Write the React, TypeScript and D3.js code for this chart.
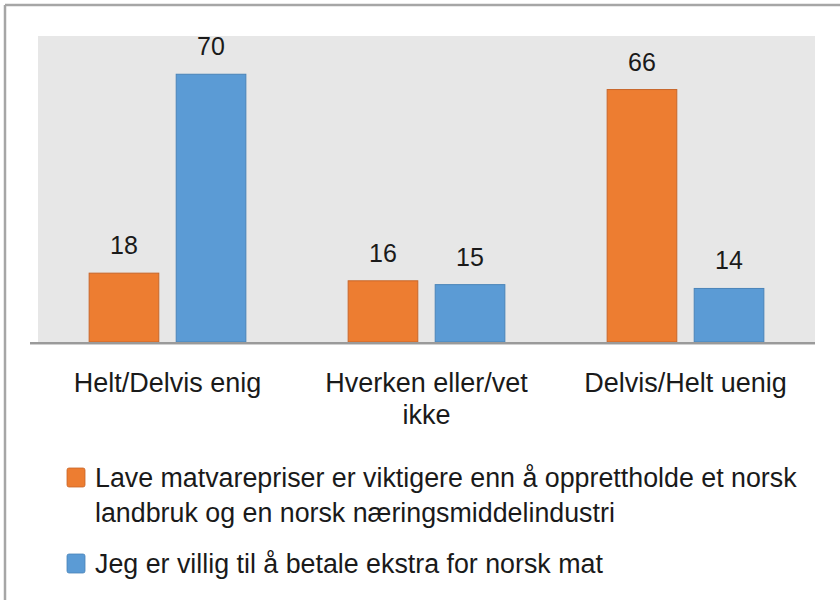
import React from "react";
import * as d3 from "d3";

// categories on the x axis
const categories = ["Helt/Delvis enig", "Hverken eller/vet ikke", "Delvis/Helt uenig"];
// the two statements, in legend order
const seriesNames = [
  "Lave matvarepriser er viktigere enn å opprettholde et norsk landbruk og en norsk næringsmiddelindustri",
  "Jeg er villig til å betale ekstra for norsk mat",
];
const lowPrices = [18, 16, 66];
const payExtra = [70, 15, 14];
const seriesValues = [lowPrices, payExtra];
const seriesColors = ["#ED7D31", "#5B9BD5"];
const seriesStroke = ["#C8662A", "#4A84B8"];

const W = 840;
const H = 600;
const FONT = '"Liberation Sans", Arial, sans-serif';
const plot = { left: 38, right: 815, top: 36, bottom: 342 };

let ctx: CanvasRenderingContext2D | null = null;
function measure(text: string, size: number) {
  if (!ctx) ctx = document.createElement("canvas").getContext("2d");
  if (!ctx) return text.length * size * 0.5;
  ctx.font = `${size}px ${FONT}`;
  return ctx.measureText(text).width;
}

function wrap(text: string, size: number, maxWidth: number) {
  const words = text.split(" ");
  const lines: string[] = [];
  let cur = "";
  words.forEach((w) => {
    const next = cur ? cur + " " + w : w;
    if (cur && measure(next, size) > maxWidth) {
      lines.push(cur);
      cur = w;
    } else cur = next;
  });
  if (cur) lines.push(cur);
  return lines;
}

export default function App() {
  const x0 = d3
    .scaleBand<string>()
    .domain(categories)
    .range([plot.left, plot.right])
    .paddingInner(0.395)
    .paddingOuter(0.1975);
  const x1 = d3
    .scaleBand<number>()
    .domain(d3.range(seriesValues.length))
    .range([0, x0.bandwidth()])
    .paddingInner(0.2);
  const y = d3.scaleLinear().domain([0, 80]).range([plot.bottom, plot.top]);

  const catSize = 27;
  const valSize = 25;
  const legSize = 26.8;

  let legendY = 468;

  return (
    <svg
      width={W}
      height={H}
      style={{ position: "absolute", left: 0, top: 0, background: "#fff" }}
      fontFamily={FONT}
    >
      {/* frame */}
      <line x1={5} x2={W} y1={5} y2={5} stroke="#a6a6a6" strokeWidth={2.5} />
      <line x1={5} x2={5} y1={5} y2={H} stroke="#a6a6a6" strokeWidth={2.5} />

      {/* plot area */}
      <rect
        x={plot.left}
        y={plot.top}
        width={plot.right - plot.left}
        height={plot.bottom - plot.top}
        fill="#E7E7E7"
      />

      {categories.map((c, ci) => (
        <g key={c} transform={`translate(${x0(c)},0)`}>
          {seriesValues.map((vals, si) => {
            const v = vals[ci];
            const bx = x1(si) ?? 0;
            return (
              <g key={si}>
                <rect
                  x={bx}
                  y={y(v)}
                  width={x1.bandwidth()}
                  height={y(0) - y(v)}
                  fill={seriesColors[si]}
                  stroke={seriesStroke[si]}
                  strokeWidth={1}
                />
                <text
                  x={bx + x1.bandwidth() / 2}
                  y={y(v) - 19}
                  textAnchor="middle"
                  fontSize={valSize}
                  fill="#1a1a1a"
                >
                  {v}
                </text>
              </g>
            );
          })}
        </g>
      ))}

      {/* x axis line */}
      <line
        x1={plot.left - 8}
        x2={plot.right}
        y1={plot.bottom + 1}
        y2={plot.bottom + 1}
        stroke="#9a9a9a"
        strokeWidth={2}
      />
      <line
        x1={plot.left - 8}
        x2={plot.right}
        y1={plot.bottom + 2.5}
        y2={plot.bottom + 2.5}
        stroke="#d0d0d0"
        strokeWidth={1}
      />

      {/* category labels */}
      {categories.map((c) => {
        const lines = wrap(c, catSize, 225);
        const cx = (x0(c) ?? 0) + x0.bandwidth() / 2;
        return (
          <text key={c} textAnchor="middle" fontSize={catSize} fill="#1a1a1a">
            {lines.map((l, i) => (
              <tspan key={i} x={cx} y={392 + i * 32}>
                {l}
              </tspan>
            ))}
          </text>
        );
      })}

      {/* legend */}
      {seriesNames.map((name, si) => {
        const lines = wrap(name, legSize, 722);
        const top = legendY;
        legendY += lines.length * 35 + 16;
        return (
          <g key={name}>
            <rect
              x={67}
              y={top}
              width={18}
              height={19}
              rx={2}
              fill={seriesColors[si]}
              stroke={seriesStroke[si]}
              strokeWidth={0.8}
            />
            <text fontSize={legSize} fill="#1a1a1a">
              {lines.map((l, i) => (
                <tspan key={i} x={95} y={top + 19 + i * 35}>
                  {l}
                </tspan>
              ))}
            </text>
          </g>
        );
      })}
    </svg>
  );
}
